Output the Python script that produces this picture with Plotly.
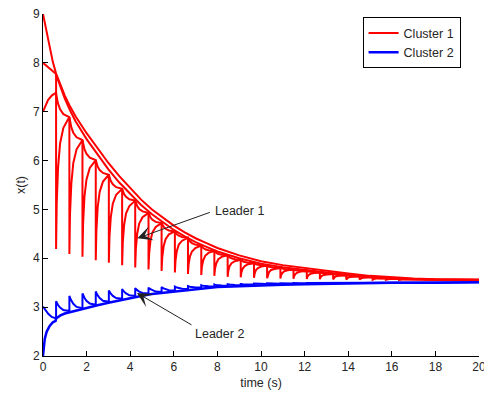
import plotly.graph_objects as go

# ---------------- data ----------------
# impulse instants (s)
T = [0.6, 1.21, 1.81, 2.42, 3.02, 3.63, 4.23, 4.84, 5.44, 6.05, 6.65, 7.26, 7.86, 8.47,
     9.07, 9.68, 10.28, 10.89, 11.49, 12.1, 12.7, 13.31, 13.91, 14.52, 15.12, 15.73,
     16.33, 16.94, 17.54]

# cluster 1: upper smooth agent (starts at 9)
red_top_t = [0, 0.1, 0.2, 0.3, 0.45, 0.6, 0.8, 1.0, 1.25, 1.5, 2.0, 2.5, 3.0, 3.5, 4.0, 4.5,
             5.0, 5.5, 6.0, 6.5, 7.0, 7.5, 8.0, 9.0, 10, 11, 12, 13, 14, 15, 16, 17, 18, 19, 20]
red_top_v = [9.0, 8.78, 8.55, 8.3, 8.02, 7.78, 7.55, 7.33, 7.1, 6.9, 6.56, 6.25, 5.95, 5.68, 5.45,
             5.2, 5.0, 4.83, 4.67, 4.53, 4.41, 4.31, 4.21, 4.06, 3.94, 3.86, 3.8, 3.74, 3.69,
             3.64, 3.61, 3.585, 3.57, 3.565, 3.56]

# cluster 1: second smooth agent just below the top one
red_second_t = [0.6, 0.8, 1.0, 1.25, 1.5, 2.0, 2.5, 3.0, 3.5, 4.0, 4.5, 5.0, 5.5, 6.0, 6.5, 7.0,
                7.5, 8.0, 9.0, 10, 11, 12, 13, 14, 15, 16, 17, 18, 19, 20]
red_second_v = [7.76, 7.51, 7.27, 7.02, 6.8, 6.44, 6.13, 5.82, 5.55, 5.33, 5.09, 4.9, 4.74, 4.58,
                4.45, 4.33, 4.235, 4.14, 4.0, 3.89, 3.815, 3.76, 3.705, 3.66, 3.615, 3.59,
                3.57, 3.56, 3.56, 3.555]

# agent starting at 8 (joins the top, then becomes the reset sawtooth)
red_start8_t = [0, 0.2, 0.4, 0.6]
red_start8_v = [8.0, 7.93, 7.85, 7.77]
# agent starting at 7 (rises, then becomes the scalloped agent)
red_start7_t = [0, 0.1, 0.23, 0.4, 0.6]
red_start7_v = [7.0, 7.12, 7.24, 7.33, 7.39]

red_peak = [7.39, 6.89, 6.42, 6.01, 5.71, 5.42, 5.18, 4.93, 4.72, 4.55, 4.42, 4.26, 4.15, 4.06,
            3.97, 3.9, 3.85, 3.8, 3.77, 3.74, 3.71, 3.68, 3.655, 3.63, 3.61, 3.59, 3.58, 3.57,
            3.565]
red_low = [4.19, 4.09, 4.03, 3.96, 3.91, 3.86, 3.81, 3.77, 3.74, 3.71, 3.68, 3.66, 3.64, 3.62,
           3.61, 3.60, 3.59, 3.585, 3.58, 3.575, 3.57, 3.57, 3.565, 3.565, 3.56, 3.56, 3.56,
           3.56, 3.56]
red_rise = [
    [5.14, 5.86, 6.35, 6.67], [4.91, 5.53, 5.95, 6.23], [4.72, 5.26, 5.61, 5.85],
    [4.57, 5.05, 5.36, 5.57], [4.44, 4.85, 5.12, 5.30], [4.32, 4.68, 4.92, 5.07],
    [4.20, 4.50, 4.71, 4.84], [4.10, 4.36, 4.53, 4.64], [4.02, 4.24, 4.39, 4.49],
    [3.96, 4.15, 4.28, 4.36], [3.88, 4.04, 4.14, 4.21], [3.83, 3.96, 4.05, 4.11],
    [3.79, 3.90, 3.98, 4.03], [3.74, 3.84, 3.90, 3.94], [3.71, 3.79, 3.84, 3.88],
    [3.69, 3.76, 3.80, 3.83], [3.66, 3.72, 3.76, 3.78], [3.65, 3.70, 3.735, 3.755],
    [3.636, 3.68, 3.71, 3.727], [3.622, 3.659, 3.683, 3.699], [3.61, 3.64, 3.66, 3.67],
    [3.60, 3.623, 3.638, 3.648], [3.588, 3.605, 3.617, 3.625], [3.581, 3.593, 3.601, 3.606],
    [3.57, 3.579, 3.584, 3.588], [3.567, 3.572, 3.576, 3.578], [3.563, 3.566, 3.568, 3.569],
    [3.562, 3.563, 3.564, 3.565]]
red_fall = [
    [7.29, 7.165, 7.05, 6.95], [6.796, 6.678, 6.57, 6.476], [6.338, 6.235, 6.141, 6.059],
    [5.95, 5.875, 5.806, 5.746], [5.652, 5.58, 5.513, 5.455], [5.372, 5.312, 5.257, 5.209],
    [5.13, 5.068, 5.01, 4.96], [4.888, 4.836, 4.787, 4.745], [4.686, 4.644, 4.604, 4.57],
    [4.524, 4.492, 4.462, 4.436], [4.388, 4.348, 4.311, 4.279], [4.238, 4.21, 4.185, 4.163],
    [4.132, 4.11, 4.089, 4.071], [4.042, 4.02, 3.999, 3.981], [3.956, 3.939, 3.922, 3.908],
    [3.89, 3.878, 3.866, 3.856], [3.84, 3.828, 3.816, 3.806], [3.794, 3.787, 3.78, 3.774],
    [3.764, 3.757, 3.75, 3.744], [3.734, 3.727, 3.72, 3.714], [3.704, 3.697, 3.69, 3.684],
    [3.675, 3.669, 3.663, 3.658], [3.65, 3.644, 3.638, 3.633], [3.626, 3.621, 3.616, 3.612],
    [3.606, 3.601, 3.596, 3.592], [3.588, 3.585, 3.583, 3.581], [3.578, 3.576, 3.573, 3.571],
    [3.569, 3.568, 3.566, 3.566]]
red_end_v = 3.56

# cluster 2
blue_env_t = [0, 0.03, 0.08, 0.17, 0.3, 0.45, 0.58, 0.6, 0.8, 1.0, 1.5, 2.0, 2.5, 3.0, 3.5,
              4.0, 4.5, 5.0, 6.0, 7.0, 8.0, 9.0, 10, 11, 12, 14, 16, 18, 20]
blue_env_v = [2.0, 2.2, 2.35, 2.5, 2.61, 2.69, 2.72, 2.77, 2.83, 2.87, 2.93, 2.98, 3.04, 3.09,
              3.14, 3.19, 3.23, 3.27, 3.32, 3.37, 3.41, 3.43, 3.45, 3.46, 3.47, 3.49, 3.5, 3.5,
              3.51]
blue_start3_t = [0, 0.1, 0.25, 0.4, 0.6]
blue_start3_v = [3.01, 2.94, 2.86, 2.8, 2.77]
blue_top = [3.12, 3.23, 3.28, 3.32, 3.34, 3.37, 3.39, 3.40, 3.41, 3.42, 3.43, 3.45, 3.465,
            3.47, 3.475, 3.485, 3.49, 3.49, 3.495, 3.495]
blue_low = [2.92, 2.98, 3.05, 3.11, 3.17, 3.23, 3.28, 3.31, 3.34, 3.37, 3.40, 3.425, 3.44,
            3.45, 3.465, 3.475, 3.48, 3.485, 3.49]
blue_decay = [
    [3.09, 3.044, 2.99, 2.94], [3.193, 3.135, 3.068, 3.005], [3.246, 3.193, 3.131, 3.073],
    [3.289, 3.24, 3.184, 3.131], [3.315, 3.275, 3.23, 3.187], [3.349, 3.317, 3.279, 3.244],
    [3.374, 3.348, 3.319, 3.291], [3.387, 3.366, 3.342, 3.319], [3.4, 3.383, 3.365, 3.347],
    [3.413, 3.401, 3.388, 3.375], [3.426, 3.419, 3.41, 3.403], [3.446, 3.44, 3.434, 3.428],
    [3.461, 3.455, 3.449, 3.443], [3.467, 3.462, 3.457, 3.452], [3.474, 3.471, 3.469, 3.466],
    [3.484, 3.481, 3.479, 3.476], [3.489, 3.486, 3.484, 3.481], [3.489, 3.488, 3.487, 3.486],
    [3.494, 3.493, 3.492, 3.49]]
blue_end_v = 3.51

x_ticks = [0, 2, 4, 6, 8, 10, 12, 14, 16, 18, 20]
y_ticks = [2, 3, 4, 5, 6, 7, 8, 9]

# ---------------- build traces ----------------
S = [0.05, 0.15, 0.3, 0.55]  # sample positions inside each inter-impulse interval
RED, BLUE = "#ff0000", "#0000ff"
LW = 2

# reset sawtooth (agent from 8)
sx, sy = list(red_start8_t), list(red_start8_v)
for k in range(len(red_rise)):
    t0, t1 = T[k], T[k + 1]
    sx.append(t0); sy.append(red_low[k])
    for s, v in zip(S, red_rise[k]):
        sx.append(t0 + s * (t1 - t0)); sy.append(v)
    sx.append(t1); sy.append(red_peak[k + 1])
sx.append(T[-1]); sy.append(red_low[-1])
sx.append(20); sy.append(red_end_v)

# scalloped agent (from 7)
cx, cy = list(red_start7_t), list(red_start7_v)
for k in range(len(red_fall)):
    t0, t1 = T[k], T[k + 1]
    for s, v in zip(S, red_fall[k]):
        cx.append(t0 + s * (t1 - t0)); cy.append(v)
    cx.append(t1); cy.append(red_peak[k + 1])
cx.append(20); cy.append(red_end_v)

# blue sawtooth (agent from 3)
bx, by = list(blue_start3_t), list(blue_start3_v)
for k in range(len(blue_decay)):
    t0, t1 = T[k], T[k + 1]
    bx.append(t0); by.append(blue_top[k])
    for s, v in zip(S, blue_decay[k]):
        bx.append(t0 + s * (t1 - t0)); by.append(v)
    bx.append(t1); by.append(blue_low[k])
bx.append(T[len(blue_decay)]); by.append(blue_top[len(blue_decay)])
bx.append(20); by.append(blue_end_v)

fig = go.Figure()
fig.add_trace(go.Scatter(x=red_top_t, y=red_top_v, mode="lines", name="Cluster 1",
                         line=dict(color=RED, width=LW)))
fig.add_trace(go.Scatter(x=red_second_t, y=red_second_v, mode="lines", showlegend=False,
                         line=dict(color=RED, width=LW)))
fig.add_trace(go.Scatter(x=cx, y=cy, mode="lines", showlegend=False,
                         line=dict(color=RED, width=LW)))
fig.add_trace(go.Scatter(x=sx, y=sy, mode="lines", showlegend=False,
                         line=dict(color=RED, width=LW)))
fig.add_trace(go.Scatter(x=blue_env_t, y=blue_env_v, mode="lines", name="Cluster 2",
                         line=dict(color=BLUE, width=2.5)))
fig.add_trace(go.Scatter(x=bx, y=by, mode="lines", showlegend=False,
                         line=dict(color=BLUE, width=LW)))

FONT = "Liberation Sans, Arial, Helvetica, sans-serif"
TXT = "#262626"

# arrows
for (tipx, tipy, tailx, taily) in [(4.33, 4.41, 7.72, 4.95), (4.31, 3.29, 6.88, 2.62)]:
    fig.add_annotation(x=tipx, y=tipy, ax=tailx, ay=taily, xref="x", yref="y",
                       axref="x", ayref="y", text="", showarrow=True,
                       arrowhead=3, arrowsize=2.5, arrowwidth=1, arrowcolor="#222")
fig.add_annotation(x=7.82, y=4.96, xref="x", yref="y", text="Leader 1", showarrow=False,
                   xanchor="left", yanchor="middle", font=dict(family=FONT, size=12.5, color=TXT))
fig.add_annotation(x=6.9, y=2.45, xref="x", yref="y", text="Leader 2", showarrow=False,
                   xanchor="left", yanchor="middle", font=dict(family=FONT, size=12.5, color=TXT))

axis_common = dict(showgrid=False, zeroline=False, showline=True, linecolor="black",
                   linewidth=1, ticks="inside", ticklen=5, tickcolor="black", mirror=False,
                   ticklabeloverflow="allow",
                   tickfont=dict(family=FONT, size=12, color=TXT))
fig.update_layout(
    width=484, height=396,
    margin=dict(l=43, r=5, t=14, b=40, autoexpand=False),
    paper_bgcolor="white", plot_bgcolor="white",
    font=dict(family=FONT, size=12, color=TXT),
    xaxis=dict(range=[0, 20], tickvals=x_ticks,
               title=dict(text="time (s)", font=dict(family=FONT, size=12.5, color=TXT), standoff=4),
               **axis_common),
    yaxis=dict(range=[2, 9], tickvals=y_ticks,
               title=dict(text="x(t)", font=dict(family=FONT, size=12.5, color=TXT), standoff=4),
               **axis_common),
    legend=dict(x=0.733, y=0.99, xanchor="left", yanchor="top", bgcolor="white",
                bordercolor="black", borderwidth=1, tracegroupgap=0,
                font=dict(family=FONT, size=12.5, color=TXT)),
    showlegend=True,
)

fig.write_html("out.html", config={"displayModeBar": False},
               post_script="document.body.style.margin='0';document.body.style.overflow='hidden';")
